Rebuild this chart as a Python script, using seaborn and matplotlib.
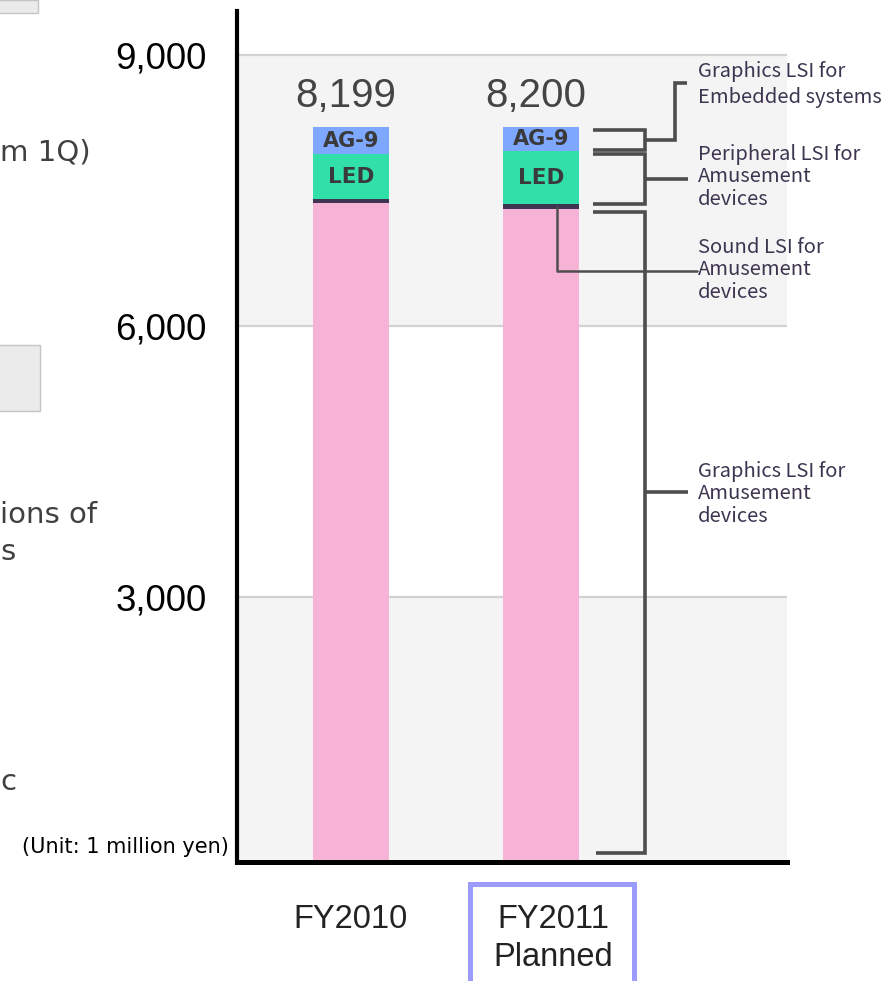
import matplotlib
matplotlib.use("Agg")
import matplotlib.pyplot as plt
import matplotlib.transforms as mtrans
from matplotlib.patches import Rectangle
import seaborn as sns
import pandas as pd
import numpy as np

# ---------------- data ----------------
categories = ["FY2010", "FY2011"]
category_labels = ["FY2010", "FY2011\nPlanned"]
graphics_amusement = [7360, 7300]   # Graphics LSI for Amusement devices (pink)
sound_amusement = [45, 45]          # Sound LSI for Amusement devices (dark band)
peripheral_led = [494, 590]         # Peripheral LSI (LED)
graphics_embedded = [300, 265]      # Graphics LSI for Embedded systems (AG-9)
totals = [8199, 8200]
total_labels = ["8,199", "8,200"]
yticks = [3000, 6000, 9000]
ytick_labels = ["3,000", "6,000", "9,000"]

# ---------------- style ----------------
sns.set_style("white")
plt.rcParams["font.family"] = ["Noto Sans CJK JP", "DejaVu Sans"]

PINK = "#f7b3d6"
DARK = "#3f3552"
GREEN = "#30e0a8"
BLUE = "#7ea7ff"
BAND = "#f4f4f4"
GRID = "#d2d2d2"
LINE = "#4d4d4d"
TXT = "#3d3550"

df = pd.DataFrame({"cat": categories})
df["c1"] = np.array(graphics_amusement)
df["c2"] = df["c1"] + np.array(sound_amusement)
df["c3"] = df["c2"] + np.array(peripheral_led)
df["c4"] = df["c3"] + np.array(graphics_embedded)

fig = plt.figure(figsize=(8.92, 9.81), dpi=100)
ax = fig.add_axes([237 / 892, 1 - 862 / 981, 550 / 892, (862 - 11) / 981])

y0, y1 = 66, 9487
ax.axhspan(6000, 9000, color=BAND, zorder=0, lw=0)
ax.axhspan(y0 - 100, 3000, color=BAND, zorder=0, lw=0)
for v in yticks:
    ax.axhline(v, color=GRID, lw=1.6, zorder=0.5)

for col, colr in [("c4", BLUE), ("c3", GREEN), ("c2", DARK), ("c1", PINK)]:
    sns.barplot(data=df, x="cat", y=col, color=colr, saturation=1, width=0.4,
                errorbar=None, ax=ax, linewidth=0, edgecolor="none", zorder=2)

ax.set_xlim(-0.6, 2.295)
ax.set_ylim(y0, y1)
ax.set_xlabel("")
ax.set_ylabel("")

# y ticks
ax.set_yticks(yticks)
ax.set_yticklabels(ytick_labels, family="Liberation Sans", fontsize=26.5, color="black")
ax.tick_params(axis="y", length=0, pad=22)
# x ticks
ax.set_xticks([0, 1])
ax.set_xticklabels(category_labels, family="Liberation Sans", fontsize=23.5, color="#222222",
                   linespacing=1.3)
ax.tick_params(axis="x", length=0, pad=30)
lab = ax.get_xticklabels()[1]
lab.set_transform(lab.get_transform() + mtrans.ScaledTranslation(12 / 100, 0, fig.dpi_scale_trans))

for s in ["top", "right"]:
    ax.spines[s].set_visible(False)
ax.spines["left"].set_linewidth(3.0)
ax.spines["bottom"].set_linewidth(3.6)
ax.spines["left"].set_color("black")
ax.spines["bottom"].set_color("black")
ax.spines["left"].set_zorder(5)
ax.spines["bottom"].set_zorder(5)

# total labels
for i, (t, l) in enumerate(zip(totals, total_labels)):
    ax.annotate(l, (i, t), xytext=(-4, 9), textcoords="offset points", ha="center", va="bottom",
                family="Liberation Sans", fontsize=29, color="#444444")

# segment labels
for i in range(2):
    ax.text(i, (df["c3"][i] + df["c4"][i]) / 2, "AG-9", ha="center", va="center",
            fontsize=15, fontweight="bold", color="#3a3a3a", zorder=3, family="DejaVu Sans")
    ax.text(i, (df["c2"][i] + df["c3"][i]) / 2, "LED", ha="center", va="center",
            fontsize=15.5, fontweight="bold", color="#3a3a3a", zorder=3, family="DejaVu Sans")

# brackets (FY2011 bar)
bx0, bx1, bx2, tx = 1.274, 1.547, 1.774, 1.826
kw = dict(color=LINE, lw=2.6, clip_on=False, zorder=4, solid_capstyle="butt", solid_joinstyle="miter")
c1, c2, c3, c4 = df["c1"][1], df["c2"][1], df["c3"][1], df["c4"][1]
afs = 14.5

# Graphics LSI for embedded (AG-9)
t1, b1 = c4 - 25, c3 + 10
ax.plot([bx0, bx1, bx1, bx0], [t1, t1, b1, b1], **kw)
m1 = (t1 + b1) / 2
ax.plot([bx1, 1.705, 1.705, 1.768], [m1, m1, 8690, 8690], **kw)
ax.text(tx, 8674, "Graphics LSI for\nEmbedded systems", ha="left", va="center",
        fontsize=afs, color=TXT, linespacing=1.35, clip_on=False)

# Peripheral LSI (LED)
t2, b2 = c3 - 35, c2 + 5
ax.plot([bx0, bx1, bx1, bx0], [t2, t2, b2, b2], **kw)
m2 = (t2 + b2) / 2
ax.plot([bx1, bx2], [m2, m2], **kw)
ax.text(tx, 7650, "Peripheral LSI for\nAmusement\ndevices", ha="left", va="center",
        fontsize=afs, color=TXT, linespacing=1.12, clip_on=False)

# Graphics LSI for amusement
t3, b3 = c1 - 40, 166
ax.plot([bx0, bx1, bx1, 1.289], [t3, t3, b3, b3], **kw)
ax.plot([bx1, bx2], [4160, 4160], **kw)
ax.text(tx, 4140, "Graphics LSI for\nAmusement\ndevices", ha="left", va="center",
        fontsize=afs, color=TXT, linespacing=1.12, clip_on=False)

# Sound LSI
ax.plot([1.084, 1.084, 1.82], [c1 + 22, 6609, 6609], color=LINE, lw=1.8, clip_on=False, zorder=4)
ax.text(tx, 6620, "Sound LSI for\nAmusement\ndevices", ha="left", va="center",
        fontsize=afs, color=TXT, linespacing=1.12, clip_on=False)

# ---------- figure-level context (cropped slide) ----------
W, H = 892, 981
def fx(p): return p / W
def fy(p): return 1 - p / H

fig.text(fx(229), fy(847), "(Unit: 1 million yen)", ha="right", va="center",
         fontsize=15, color="black", family="DejaVu Sans")

side = dict(ha="left", va="center", fontsize=21, color="#404040", family="DejaVu Sans")
fig.text(fx(0), fy(153), "m 1Q)", **side)
fig.text(fx(0), fy(515), "ions of", **side)
fig.text(fx(0), fy(552), "s", **side)
fig.text(fx(0), fy(782), "c", **side)

fig.patches.append(Rectangle((fx(-20), fy(13)), fx(58), 13 / H, transform=fig.transFigure,
                             facecolor="#ebebeb", edgecolor="#c4c4c4", lw=1))
fig.patches.append(Rectangle((fx(-20), fy(411)), fx(60), 66 / H, transform=fig.transFigure,
                             facecolor="#ebebeb", edgecolor="#c4c4c4", lw=1))

# highlight box around FY2011 Planned
fig.patches.append(Rectangle((fx(470), fy(995)), fx(164), (995 - 884) / H, transform=fig.transFigure,
                             facecolor="none", edgecolor="#9c9cff", lw=3.6, zorder=10))

fig.savefig("out.png", dpi=100)
